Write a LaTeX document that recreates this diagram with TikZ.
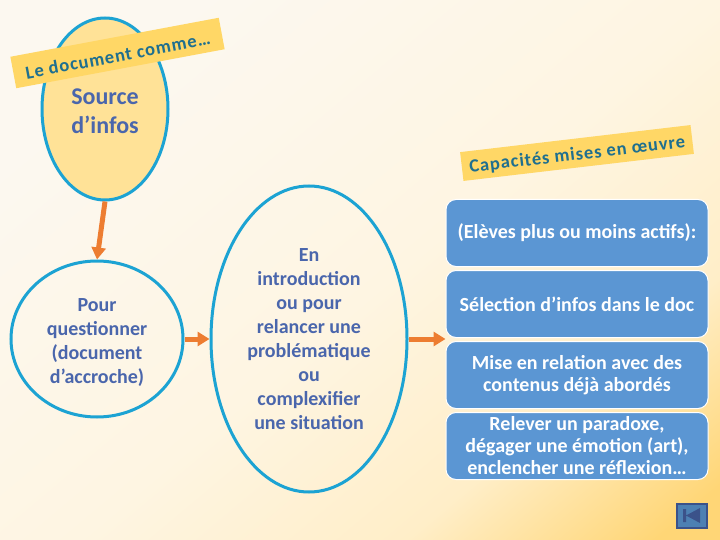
\documentclass[tikz,border=0pt]{standalone}
\usepackage{fontspec}
\setmainfont{Carlito}
\newfontfamily\espace[LetterSpace=5]{Carlito}
\usetikzlibrary{arrows.meta,positioning,shapes.geometric}
\definecolor{bleuTrait}{HTML}{1CA3D3}
\definecolor{bleuTexte}{HTML}{4A66AC}
\definecolor{bleuBoite}{HTML}{5B96D3}
\definecolor{bleuBandeau}{HTML}{1F6F8F}
\definecolor{jaune}{HTML}{FFE297}
\definecolor{jauneBandeau}{HTML}{FFD766}
\definecolor{orangeFleche}{HTML}{ED7D31}
\definecolor{fondA}{HTML}{FCF8F0}
\definecolor{fondB}{HTML}{FEF5E2}
\definecolor{fondC}{HTML}{FFEEC8}
\definecolor{fondD}{HTML}{FFD676}
\pgfdeclarehorizontalshading{fondpage}{100bp}{color(0bp)=(fondA); color(25bp)=(fondA);
  color(52bp)=(fondB); color(69bp)=(fondC); color(82bp)=(fondD); color(100bp)=(fondD)}

\begin{document}
\begin{tikzpicture}[
  x=1pt, y=-1pt,
  bulle/.style={ellipse, draw=bleuTrait, line width=3pt, align=center, inner sep=0pt,
                text=bleuTexte, font=\fontsize{20}{24}\selectfont\bfseries},
  bandeau/.style={rectangle, fill=jauneBandeau, text=bleuBandeau, inner sep=0pt,
                  font=\fontsize{18.5}{24}\selectfont\espace\bfseries},
  boite/.style={rectangle, rounded corners=10pt, draw=white, line width=1pt, fill=bleuBoite,
                align=center, text=white, inner sep=0pt, minimum width=262pt, minimum height=67pt,
                font=\fontsize{20}{22}\selectfont\bfseries},
  fleche/.style={-{Triangle[length=12pt, width=14pt]}, orangeFleche, line width=5pt}
]
\useasboundingbox (0,0) rectangle (720,540);
\shade[shading=fondpage, shading angle=-50] (0,0) rectangle (720,540);
\node[bulle, fill=jaune, minimum width=126pt, minimum height=182pt,
      font=\fontsize{24}{29}\selectfont\bfseries] (source) at (105,109) {\rule{0pt}{20pt}Source\\d’infos};
\node[bulle, minimum width=172pt, minimum height=156pt] (pour) at (97,339) {\rule{0pt}{20pt}Pour\\questionner\\(document\\d’accroche)};
\node[bulle, minimum width=196pt, minimum height=306pt] (intro) at (309,339) {En\\introduction\\ou pour\\relancer une\\problématique\\ou\\complexifier\\une situation};
\node[bandeau, rotate=10.6, minimum width=212pt, minimum height=32pt] (comme) at (117.5,53) {\rule{0pt}{18pt}Le document comme…\hspace{7pt}};
\node[bandeau, rotate=6.7, minimum width=232pt, minimum height=29pt] (capacites) at (577,153) {\rule{0pt}{17pt}Capacités mises en œuvre};
\node[boite] (eleves) at (577,233) {(Elèves plus ou moins actifs):};
\node[boite, below=3pt of eleves] (selection) {Sélection d’infos dans le doc};
\node[boite, below=3pt of selection] (relation) {Mise en relation avec des\\contenus déjà abordés};
\node[boite, below=3pt of relation] (paradoxe) {Relever un paradoxe,\\dégager une émotion (art),\\enclencher une réflexion…};
\draw[fleche] (source.south) -- (pour.north);
\draw[fleche] (pour.east) -- (intro.west);
\draw[fleche] (intro.east) -- (intro.east -| relation.west);
% bouton retour
\node[rectangle, draw=bleuTexte!80!black, line width=2pt, fill=bleuBoite!85!black,
      minimum width=30pt, minimum height=24pt, inner sep=0pt] (retour) at (691.5,515.5) {};
\fill[bleuTexte!80!black] (683,509) rectangle (686,522) (686,515.5) -- (700,508) -- (700,523) -- cycle;
\end{tikzpicture}
\end{document}
